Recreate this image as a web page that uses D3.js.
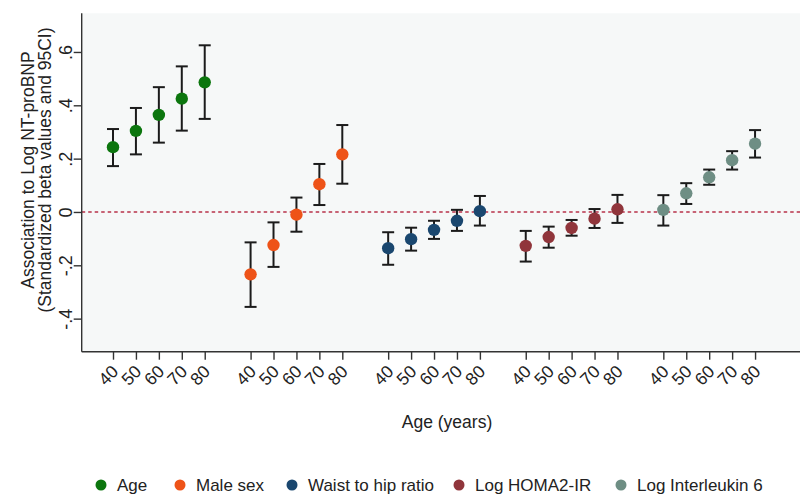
<!DOCTYPE html>
<html>
<head>
<meta charset="utf-8">
<script src="https://cdn.jsdelivr.net/npm/d3@7"></script>
<style>
  body { margin: 0; background: #fff; }
  svg text { font-family: "Liberation Sans", Arial, sans-serif; fill: #222; }
</style>
</head>
<body>
<div id="chart"></div>
<script>
// series names, colours and age ticks
const groups = ["Age", "Male sex", "Waist to hip ratio", "Log HOMA2-IR", "Log Interleukin 6"];
const colors = ["#0c760e", "#ee5318", "#1a476f", "#90353b", "#6e8e84"];
const ages = ["40", "50", "60", "70", "80"];
const yTicks = [-0.4, -0.2, 0, 0.2, 0.4, 0.6];

// beta values and 95% CI, one array per series (ages 40..80)
const betaAge   = [0.243, 0.304, 0.364, 0.425, 0.486];
const lowAge    = [0.172, 0.216, 0.260, 0.305, 0.349];
const highAge   = [0.311, 0.390, 0.468, 0.546, 0.625];

const betaMale  = [-0.234, -0.124, -0.010, 0.104, 0.216];
const lowMale   = [-0.356, -0.206, -0.074, 0.026, 0.106];
const highMale  = [-0.114, -0.039, 0.054, 0.180, 0.326];

const betaWhr   = [-0.136, -0.102, -0.067, -0.033, 0.003];
const lowWhr    = [-0.198, -0.145, -0.101, -0.071, -0.051];
const highWhr   = [-0.076, -0.059, -0.033, 0.008, 0.060];

const betaHoma  = [-0.127, -0.094, -0.060, -0.025, 0.010];
const lowHoma   = [-0.186, -0.134, -0.089, -0.060, -0.041];
const highHoma  = [-0.071, -0.055, -0.030, 0.011, 0.064];

const betaIl6   = [0.008, 0.070, 0.130, 0.194, 0.256];
const lowIl6    = [-0.051, 0.030, 0.102, 0.159, 0.204];
const highIl6   = [0.063, 0.108, 0.159, 0.228, 0.307];

const betas = [betaAge, betaMale, betaWhr, betaHoma, betaIl6];
const lows = [lowAge, lowMale, lowWhr, lowHoma, lowIl6];
const highs = [highAge, highMale, highWhr, highHoma, highIl6];

// flatten into rows; each group takes 6 slots on the x axis (5 ages + gap)
const rows = [];
groups.forEach((g, gi) => {
    ages.forEach((a, ai) => {
        rows.push({ group: gi, age: a, pos: gi * 6 + ai,
            beta: betas[gi][ai], lo: lows[gi][ai], hi: highs[gi][ai] });
    });
});

const svgWidth = 800, svgHeight = 494;
const plot = { left: 81.7, right: 800, top: 13.3, bottom: 351.7 };

const svg = d3.select("#chart").append("svg")
    .attr("width", svgWidth)
    .attr("height", svgHeight);

const x = d3.scaleLinear().domain([-1.365, 29.96]).range([plot.left, plot.right]);
const y = d3.scaleLinear().domain([-0.524, 0.745]).range([plot.bottom, plot.top]);

// plot region background
svg.append("rect")
    .attr("x", plot.left).attr("y", plot.top)
    .attr("width", plot.right - plot.left).attr("height", plot.bottom - plot.top)
    .attr("fill", "#f6f8f8");

// reference line at zero
svg.append("line")
    .attr("x1", plot.left).attr("x2", plot.right)
    .attr("y1", y(0)).attr("y2", y(0))
    .attr("stroke", "#b8324a").attr("stroke-width", 1.4)
    .attr("stroke-dasharray", "3.5,3");

// y axis, stata style labels (".2", "-.4")
const fmt = d => d === 0 ? "0" : d.toFixed(1).replace("0.", ".");
const yAxis = svg.append("g")
    .attr("transform", `translate(${plot.left},0)`)
    .call(d3.axisLeft(y).tickValues(yTicks).tickFormat(fmt).tickSize(8).tickSizeOuter(0));
yAxis.select(".domain").attr("d", `M0,${plot.top}V${plot.bottom}`);
yAxis.selectAll("line, path").attr("stroke", "#333").attr("stroke-width", 1.4);
yAxis.selectAll("text")
    .attr("x", null).attr("dy", null)
    .attr("transform", "translate(-10,0) rotate(-90)")
    .attr("text-anchor", "middle")
    .style("font-size", "18px")
    .style("font-family", "'Liberation Sans', Arial, sans-serif")
    .attr("fill", "#222");

// x axis
const xAxis = svg.append("g")
    .attr("transform", `translate(0,${plot.bottom})`)
    .call(d3.axisBottom(x).tickValues(rows.map(d => d.pos))
        .tickFormat((d, i) => rows[i].age).tickSize(8).tickSizeOuter(0));
xAxis.select(".domain").attr("d", `M${plot.left},0H${plot.right}`);
xAxis.selectAll("line, path").attr("stroke", "#333").attr("stroke-width", 1.4);
xAxis.selectAll("text")
    .attr("y", null).attr("dy", null)
    .attr("transform", "translate(6,21) rotate(-45)")
    .attr("text-anchor", "end")
    .style("font-size", "17.5px")
    .style("font-family", "'Liberation Sans', Arial, sans-serif")
    .attr("fill", "#222");

// error bars
const bars = svg.append("g").selectAll("g").data(rows).enter().append("g")
    .attr("stroke", "#1b1b1b").attr("stroke-width", 2);
bars.append("line")
    .attr("x1", d => x(d.pos)).attr("x2", d => x(d.pos))
    .attr("y1", d => y(d.lo)).attr("y2", d => y(d.hi));
bars.append("line")
    .attr("x1", d => x(d.pos) - 6).attr("x2", d => x(d.pos) + 6)
    .attr("y1", d => y(d.lo)).attr("y2", d => y(d.lo));
bars.append("line")
    .attr("x1", d => x(d.pos) - 6).attr("x2", d => x(d.pos) + 6)
    .attr("y1", d => y(d.hi)).attr("y2", d => y(d.hi));

// point estimates
svg.append("g").selectAll("circle").data(rows).enter().append("circle")
    .attr("cx", d => x(d.pos))
    .attr("cy", d => y(d.beta))
    .attr("r", 6.2)
    .attr("fill", d => colors[d.group]);

// axis titles
svg.append("text")
    .attr("transform", "translate(34,170) rotate(-90)")
    .attr("text-anchor", "middle")
    .style("font-size", "17.5px")
    .text("Association to Log NT-proBNP");
svg.append("text")
    .attr("transform", "translate(51,170) rotate(-90)")
    .attr("text-anchor", "middle")
    .style("font-size", "17.5px")
    .text("(Standardized beta values and 95CI)");

svg.append("text")
    .attr("x", 447).attr("y", 428)
    .attr("text-anchor", "middle")
    .style("font-size", "17.5px")
    .text("Age (years)");

// legend
const legendX = [101, 180, 292, 459, 621];
const legend = svg.append("g").selectAll("g").data(groups).enter().append("g")
    .attr("transform", (d, i) => `translate(${legendX[i]},485)`);
legend.append("circle").attr("r", 5.5).attr("fill", (d, i) => colors[i]);
legend.append("text")
    .attr("x", 16).attr("y", 6)
    .style("font-size", "17px")
    .text(d => d);
</script>
</body>
</html>
